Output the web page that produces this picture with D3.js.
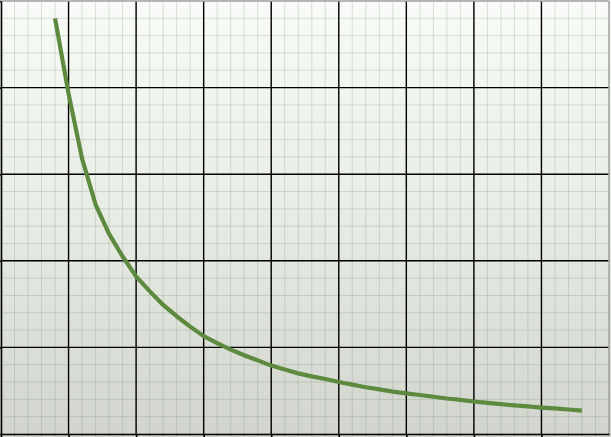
<!DOCTYPE html>
<html>
<head>
<meta charset="utf-8">
<script src="https://cdn.jsdelivr.net/npm/d3@7"></script>
<style>
html,body{margin:0;padding:0;background:#fff;}
svg{display:block;}
</style>
</head>
<body>
<svg id="chart" width="611" height="437"></svg>
<script>
const xValues = [0.8,1.0,1.2,1.4,1.6,1.8,2.0,2.2,2.4,2.6,2.8,3.0,3.2,3.4,3.6,3.8,4.0,4.2,4.4,4.6,4.8,5.0,5.2,5.4,5.6,5.8,6.0,6.2,6.4,6.6,6.8,7.0,7.2,7.4,7.6,7.8,8.0,8.2,8.4,8.6];
const yValues = [4.80,3.93,3.18,2.65,2.31,2.05,1.82,1.65,1.49,1.36,1.24,1.13,1.05,0.975,0.91,0.85,0.79,0.745,0.70,0.665,0.635,0.60,0.57,0.54,0.515,0.49,0.47,0.45,0.43,0.41,0.395,0.375,0.36,0.345,0.33,0.318,0.305,0.295,0.283,0.27];
const xMajorTicks = [0,1,2,3,4,5,6,7,8,9];
const yMajorTicks = [0,1,2,3,4,5];

const svg = d3.select("#chart");
const x = d3.scaleLinear().domain([0,9]).range([1,609]);
const y = d3.scaleLinear().domain([0,5]).range([434,1]);

const defs = svg.append("defs");
const grad = defs.append("linearGradient").attr("id","bg").attr("x1",0).attr("y1",0).attr("x2",0).attr("y2",1);
grad.append("stop").attr("offset","0%").attr("stop-color","#f8fbf7");
grad.append("stop").attr("offset","45%").attr("stop-color","#e9eee6");
grad.append("stop").attr("offset","100%").attr("stop-color","#d1d5ce");

svg.append("rect").attr("x",0).attr("y",0).attr("width",611).attr("height",437).attr("fill","url(#bg)");

const xMinor = d3.range(0, 9.0001, 0.2);
const yMinor = d3.range(0, 5.0001, 0.2);
const g = svg.append("g");
g.selectAll("line.vminor").data(xMinor).enter().append("line")
  .attr("x1",d=>x(d)).attr("x2",d=>x(d)).attr("y1",y(5)).attr("y2",437)
  .attr("stroke","#6f7a6a").attr("stroke-opacity",0.22).attr("stroke-width",1);
g.selectAll("line.hminor").data(yMinor).enter().append("line")
  .attr("y1",d=>y(d)).attr("y2",d=>y(d)).attr("x1",x(0)).attr("x2",x(9))
  .attr("stroke","#6f7a6a").attr("stroke-opacity",0.22).attr("stroke-width",1);

// border top/right
svg.append("line").attr("x1",x(0)).attr("x2",x(9)).attr("y1",y(5)).attr("y2",y(5)).attr("stroke","#a3a3a3").attr("stroke-width",1.5);
svg.append("line").attr("x1",x(9)).attr("x2",x(9)).attr("y1",y(5)).attr("y2",y(0)).attr("stroke","#a3a3a3").attr("stroke-width",1.5);

// major grid
g.selectAll("line.vmajor").data(xMajorTicks.slice(1,9)).enter().append("line")
  .attr("x1",d=>x(d)).attr("x2",d=>x(d)).attr("y1",y(5)).attr("y2",y(0))
  .attr("stroke","#000").attr("stroke-width",1.4);
g.selectAll("line.hmajor").data(yMajorTicks.slice(1,5)).enter().append("line")
  .attr("y1",d=>y(d)).attr("y2",d=>y(d)).attr("x1",x(0)).attr("x2",x(9))
  .attr("stroke","#000").attr("stroke-width",1.4);

// axes
const xAxis = d3.axisBottom(x).tickValues(xMajorTicks.slice(0,9)).tickSize(6).tickSizeOuter(0).tickFormat("");
const yAxis = d3.axisLeft(y).tickValues(yMajorTicks).tickSize(6).tickSizeOuter(0).tickFormat("");
const ax = svg.append("g").attr("transform",`translate(0,${y(0)})`).call(xAxis);
const ay = svg.append("g").attr("transform",`translate(${x(0)},0)`).call(yAxis);
[ax,ay].forEach(a=>{a.selectAll("path,line").attr("stroke","#000").attr("stroke-width",1.6);});

// curve
const pts = xValues.map((v,i)=>[v,yValues[i]]);
const line = d3.line().x(d=>x(d[0])).y(d=>y(d[1])).curve(d3.curveLinear);
svg.append("path").datum(pts).attr("d",line)
  .attr("fill","none").attr("stroke","#5d8a3e").attr("stroke-width",4.2)
  .attr("stroke-linejoin","round");
</script>
</body>
</html>
